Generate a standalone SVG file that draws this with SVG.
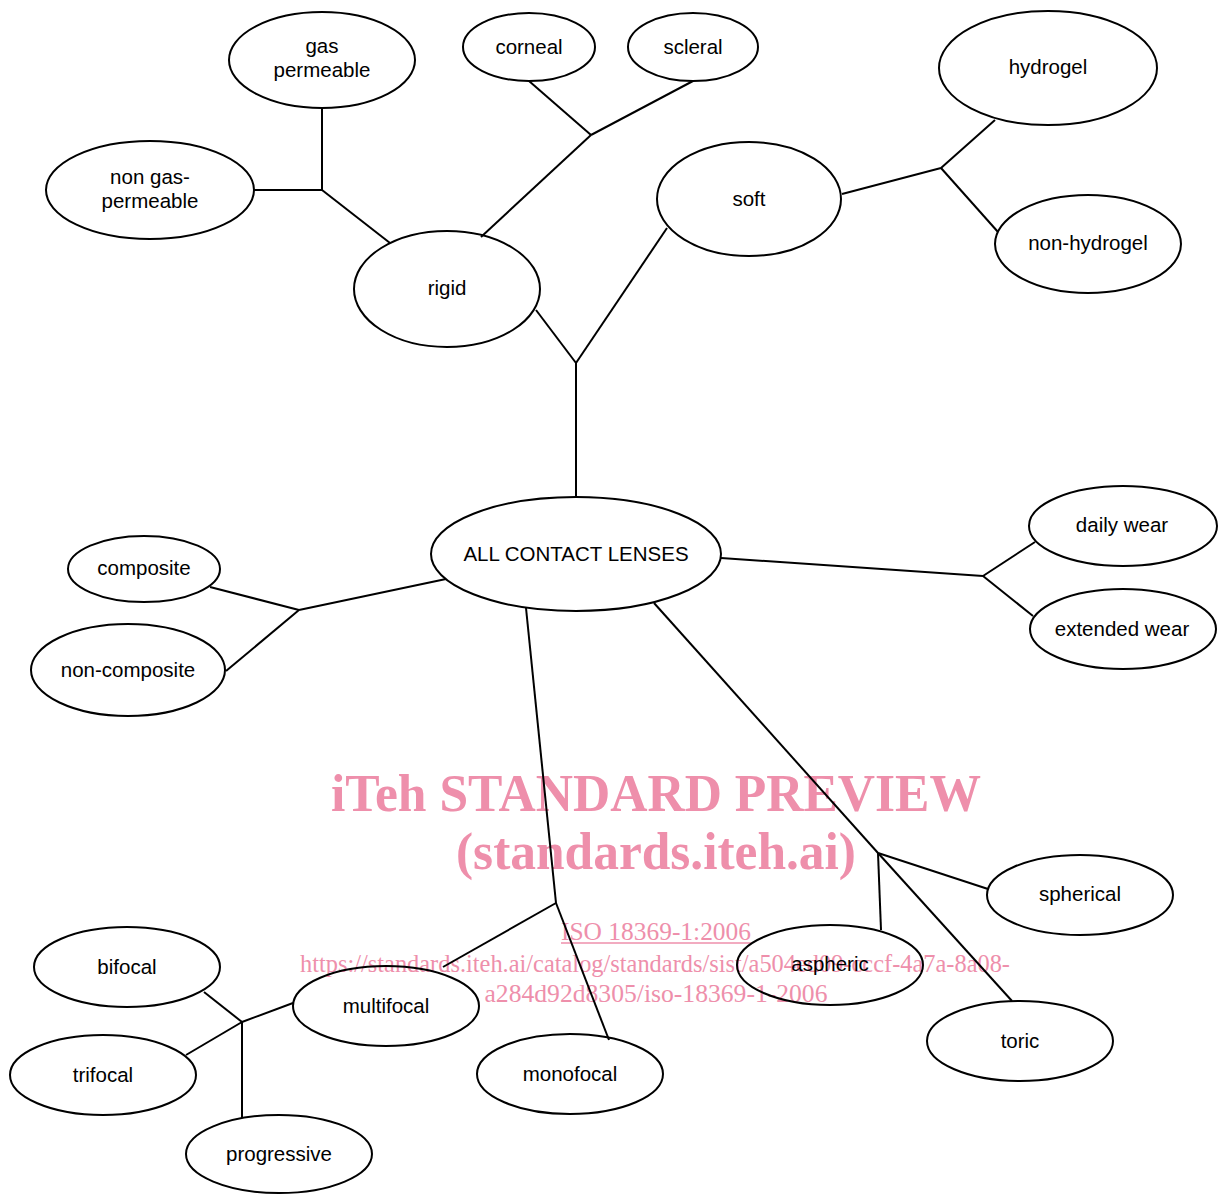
<svg xmlns="http://www.w3.org/2000/svg" width="1218" height="1194" viewBox="0 0 1218 1194">
<style>
.n ellipse{fill:none;stroke:#000;stroke-width:2}
.n text{font-family:"Liberation Sans",Arial,sans-serif;font-size:20.5px;fill:#000;text-anchor:middle}
#connectors line{stroke:#000;stroke-width:2}
.wm{font-family:"Liberation Serif","Times New Roman",serif;fill:#ee8fab;text-anchor:middle}
</style>
<rect width="1218" height="1194" fill="#fff"/>
<g id="watermark">
<text class="wm" x="656" y="811" font-size="52" font-weight="bold" textLength="650" lengthAdjust="spacingAndGlyphs">iTeh STANDARD PREVIEW</text>
<text class="wm" x="656" y="869" font-size="52" font-weight="bold" textLength="400" lengthAdjust="spacingAndGlyphs">(standards.iteh.ai)</text>
<text class="wm" x="656" y="940" font-size="25" textLength="190" lengthAdjust="spacingAndGlyphs">ISO 18369-1:2006</text>
<line x1="561" y1="943" x2="751" y2="943" stroke="#ee8fab" stroke-width="1.5"/>
<text class="wm" x="655" y="972" font-size="25" textLength="710" lengthAdjust="spacingAndGlyphs">https://standards.iteh.ai/catalog/standards/sist/a504ed09-cccf-4a7a-8a08-</text>
<text class="wm" x="656" y="1002" font-size="25" textLength="343" lengthAdjust="spacingAndGlyphs">a284d92d8305/iso-18369-1-2006</text>
</g>
<g id="connectors">
<line x1="322" y1="108" x2="322" y2="190"/>
<line x1="254" y1="190" x2="322" y2="190"/>
<line x1="322" y1="190" x2="390" y2="243"/>
<line x1="481" y1="237" x2="591" y2="135"/>
<line x1="591" y1="135" x2="529" y2="81"/>
<line x1="591" y1="135" x2="693" y2="81"/>
<line x1="536" y1="310" x2="576" y2="363"/>
<line x1="667" y1="228" x2="576" y2="363"/>
<line x1="576" y1="363" x2="576" y2="497"/>
<line x1="842" y1="194" x2="941" y2="168"/>
<line x1="941" y1="168" x2="995" y2="120"/>
<line x1="941" y1="168" x2="998" y2="232"/>
<line x1="721" y1="558" x2="983" y2="576"/>
<line x1="983" y1="576" x2="1035" y2="542"/>
<line x1="983" y1="576" x2="1033" y2="616"/>
<line x1="446" y1="579" x2="299" y2="610"/>
<line x1="299" y1="610" x2="210" y2="587"/>
<line x1="299" y1="610" x2="226" y2="671"/>
<line x1="526" y1="608" x2="556" y2="903"/>
<line x1="556" y1="903" x2="443" y2="967"/>
<line x1="556" y1="903" x2="609" y2="1040"/>
<line x1="654" y1="603" x2="878" y2="853"/>
<line x1="878" y1="853" x2="988" y2="889"/>
<line x1="878" y1="853" x2="881" y2="930"/>
<line x1="878" y1="853" x2="1012" y2="1001"/>
<line x1="293" y1="1003" x2="242" y2="1022"/>
<line x1="242" y1="1022" x2="204" y2="992"/>
<line x1="242" y1="1022" x2="186" y2="1055"/>
<line x1="242" y1="1022" x2="242" y2="1118"/>
</g>
<g id="n-gas-permeable" class="n"><ellipse cx="322" cy="60" rx="93" ry="48"/><text x="322" y="53">gas</text><text x="322" y="77">permeable</text></g>
<g id="n-non-gas-permeable" class="n"><ellipse cx="150" cy="190" rx="104" ry="49"/><text x="150" y="184">non gas-</text><text x="150" y="208">permeable</text></g>
<g id="n-rigid" class="n"><ellipse cx="447" cy="289" rx="93" ry="58"/><text x="447" y="295">rigid</text></g>
<g id="n-corneal" class="n"><ellipse cx="529" cy="47" rx="66" ry="34"/><text x="529" y="54">corneal</text></g>
<g id="n-scleral" class="n"><ellipse cx="693" cy="47" rx="65" ry="34"/><text x="693" y="54">scleral</text></g>
<g id="n-hydrogel" class="n"><ellipse cx="1048" cy="68" rx="109" ry="57"/><text x="1048" y="74">hydrogel</text></g>
<g id="n-soft" class="n"><ellipse cx="749" cy="199" rx="92" ry="57"/><text x="749" y="206">soft</text></g>
<g id="n-non-hydrogel" class="n"><ellipse cx="1088" cy="244" rx="93" ry="49"/><text x="1088" y="250">non-hydrogel</text></g>
<g id="n-all" class="n"><ellipse cx="576" cy="554" rx="145" ry="57"/><text x="576" y="561">ALL CONTACT LENSES</text></g>
<g id="n-daily-wear" class="n"><ellipse cx="1123" cy="526" rx="94" ry="40"/><text x="1122" y="532">daily wear</text></g>
<g id="n-extended-wear" class="n"><ellipse cx="1123" cy="629" rx="93" ry="40"/><text x="1122" y="636">extended wear</text></g>
<g id="n-composite" class="n"><ellipse cx="144" cy="569" rx="76" ry="33"/><text x="144" y="575">composite</text></g>
<g id="n-non-composite" class="n"><ellipse cx="128" cy="670" rx="97" ry="46"/><text x="128" y="677">non-composite</text></g>
<g id="n-spherical" class="n"><ellipse cx="1080" cy="895" rx="93" ry="40"/><text x="1080" y="901">spherical</text></g>
<g id="n-aspheric" class="n"><ellipse cx="830" cy="965" rx="93" ry="40"/><text x="830" y="971">aspheric</text></g>
<g id="n-toric" class="n"><ellipse cx="1020" cy="1041" rx="93" ry="40"/><text x="1020" y="1048">toric</text></g>
<g id="n-bifocal" class="n"><ellipse cx="127" cy="967" rx="93" ry="40"/><text x="127" y="974">bifocal</text></g>
<g id="n-multifocal" class="n"><ellipse cx="386" cy="1006" rx="93" ry="40"/><text x="386" y="1013">multifocal</text></g>
<g id="n-monofocal" class="n"><ellipse cx="570" cy="1074" rx="93" ry="40"/><text x="570" y="1081">monofocal</text></g>
<g id="n-trifocal" class="n"><ellipse cx="103" cy="1075" rx="93" ry="40"/><text x="103" y="1082">trifocal</text></g>
<g id="n-progressive" class="n"><ellipse cx="279" cy="1154" rx="93" ry="39"/><text x="279" y="1161">progressive</text></g>
</svg>
